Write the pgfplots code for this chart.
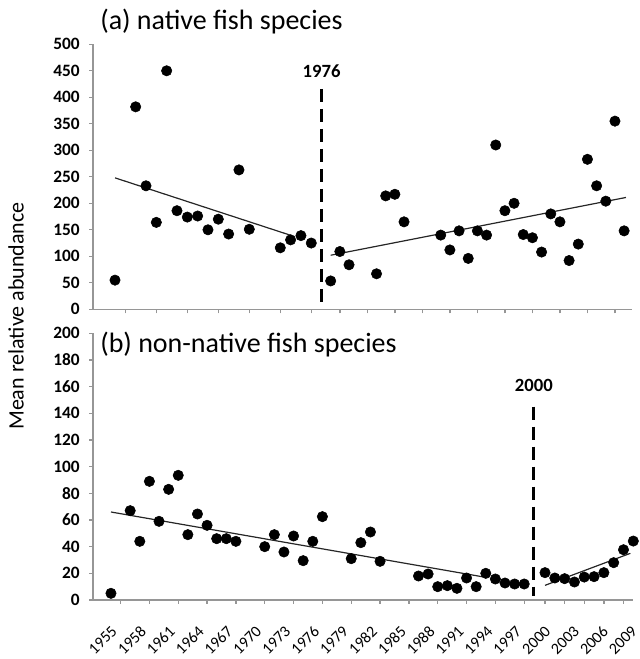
\documentclass[border=0pt]{standalone}
\usepackage{pgfplots}
\pgfplotsset{compat=1.18}
\usepackage{fontspec}
\setmainfont{Carlito}

\definecolor{axisgray}{RGB}{150,150,150}

\pgfplotsset{
  % common frame for every panel (and for the overlaid sub-period axes)
  base/.style={
    scale only axis, anchor=south west, clip=false,
    axis x line*=bottom,
    axis line style={axisgray, line width=1pt},
    tick style={axisgray, line width=1pt},
    tick align=outside, major tick length=3pt,
    xticklabels={},
    /pgf/number format/assume math mode=true,
    /pgf/number format/1000 sep={},
  },
  % panel that carries the visible y axis
  panel/.style={base, axis y line*=left,
    yticklabel style={font=\fontsize{13}{15}\selectfont\bfseries,
                      anchor=east, inner sep=0pt},
    yticklabel shift=6.75pt},
  % second period of a panel, drawn on its own x scale
  subpanel/.style={base, axis y line=none, ytick=\empty},
  dots/.style={only marks, mark=*, mark size=3.9pt,
               mark options={draw=black, fill=black}},
  trend/.style={black!85, line width=0.9pt, no marks},
  breakline/.style={black, line width=2pt, no marks,
                    dash pattern=on 9.75pt off 5.25pt},
}

\begin{document}
\begin{tikzpicture}
\path[use as bounding box] (0pt,0pt) rectangle (479.25pt,494.25pt);

% ---------------- (a) native fish species ----------------
\begin{axis}[panel, at={(69.75pt,262.275pt)}, width=404.25pt, height=198.75pt,
  xmin=1953.87, xmax=2006.05, ymin=0, ymax=500,
  xtick={1957,1960,...,1975}, ytick={0,50,...,500}]
  \addplot[trend] coordinates {(1956,248) (1973.1,139)};
  \addplot[dots] coordinates {
    (1956,55) (1958,382) (1959,233) (1960,164) (1961,450) (1962,186)
    (1963,174) (1964,176) (1965,150) (1966,170) (1967,142) (1968,263)
    (1969,151) (1972,116) (1973,131) (1974,139) (1975,125)};
  \addplot[breakline] coordinates {(1976,416) (1976,12)};
  \node[anchor=base, inner sep=0pt, font=\fontsize{14}{16}\selectfont\bfseries]
    at (axis cs:1976,438) {1976};
\end{axis}

\begin{axis}[subpanel, at={(69.75pt,262.275pt)}, width=404.25pt, height=198.75pt,
  xmin=1950.08, xmax=2008.86, ymin=0, ymax=500,
  xtick={1977,1980,...,2007}]
  \addplot[trend] coordinates {(1976,102) (2008.2,211)};
  \addplot[dots] coordinates {
    (1976,53.5) (1977,109) (1978,84) (1981,67) (1982,214) (1983,217)
    (1984,165) (1988,140) (1989,112) (1990,148) (1991,96) (1992,148)
    (1993,140) (1994,310) (1995,186) (1996,200) (1997,141) (1998,135)
    (1999,108) (2000,180) (2001,165) (2002,92) (2003,123) (2004,283)
    (2005,233) (2006,204) (2007,355) (2008,148)};
\end{axis}

% ---------------- (b) non-native fish species ----------------
\begin{axis}[panel, at={(69.75pt,44.25pt)}, width=405pt, height=200pt,
  xmin=1954.13, xmax=2010.32, ymin=0, ymax=200,
  xtick={1957,1960,...,1998}, ytick={0,20,...,200}]
  \addplot[trend] coordinates {(1956,66) (1994.6,17.5)};
  \addplot[dots] coordinates {
    (1956,5) (1958,67) (1959,44) (1960,89) (1961,59) (1962,83) (1963,93.5)
    (1964,49) (1965,64.5) (1966,56) (1967,46) (1968,46) (1969,44)
    (1972,40) (1973,49) (1974,36) (1975,48) (1976,29.5) (1977,44) (1978,62.5)
    (1981,31) (1982,43) (1983,51) (1984,29)
    (1988,18) (1989,19.5) (1990,10) (1991,10.75) (1992,8.75) (1993,16.5)
    (1994,10) (1995,20) (1996,15.75) (1997,12.75) (1998,12) (1999,12)};
  \addplot[breakline] coordinates {(2000,145) (2000,3)};
  \node[anchor=base, inner sep=0pt, font=\fontsize{14}{16}\selectfont\bfseries]
    at (axis cs:2000,156) {2000};
\end{axis}

\begin{axis}[subpanel, at={(69.75pt,44.25pt)}, width=405pt, height=200pt,
  xmin=1953.92, xmax=2008.97, ymin=0, ymax=200,
  xtick={2000,2002,...,2008}]
  \addplot[trend] coordinates {(2000,11) (2008.7,35)};
  \addplot[dots] coordinates {
    (2000,20.5) (2001,16.5) (2002,16) (2003,13.5) (2004,17.2)
    (2005,17.5) (2006,20.5) (2007,28) (2008,37.7) (2009,44.2)};
\end{axis}

% year labels along the common time axis
\begin{axis}[scale only axis, anchor=south west, at={(69.75pt,44.25pt)},
  width=417.75pt, height=200pt, xmin=1952.77, xmax=2010.61, ymin=0, ymax=1,
  hide y axis, axis x line*=bottom, x axis line style={draw=none},
  major tick length=0pt, xtick style={draw=none},
  xtick={1955,1958,...,2009},
  xticklabels={1955,1958,1961,1964,1967,1970,1973,1976,1979,1982,1985,1988,
               1991,1994,1997,2000,2003,2006,2009},
  xticklabel shift=21.5pt,
  xticklabel style={font=\fontsize{12}{14}\selectfont, rotate=45,
                    anchor=east, inner sep=0pt}]
\end{axis}

% titles and shared y-axis label
\node[anchor=base west, inner sep=0pt, font=\fontsize{21}{25}\selectfont]
  at (75pt,471.75pt) {(a) native fish species};
\node[anchor=base west, inner sep=0pt, font=\fontsize{21}{25}\selectfont]
  at (75pt,229.5pt) {(b) non-native fish species};
\node[rotate=90, inner sep=0pt, font=\fontsize{16.5}{19}\selectfont]
  at (12pt,257.25pt) {Mean relative abundance};
\end{tikzpicture}
\end{document}
